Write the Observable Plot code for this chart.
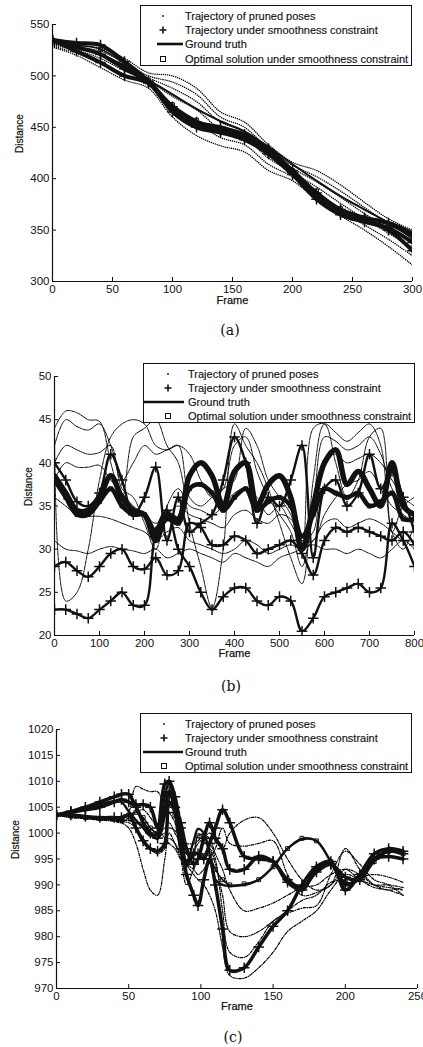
<!DOCTYPE html>
<html><head><meta charset="utf-8">
<script src="https://cdn.jsdelivr.net/npm/d3@7"></script>
<script src="https://cdn.jsdelivr.net/npm/@observablehq/plot@0.6"></script>
<style>
body{margin:0;background:#fff;}
#wrap{position:relative;width:423px;height:1047px;overflow:hidden;font-family:"Liberation Sans",Arial,sans-serif;background:#fff;}
#wrap svg{position:absolute;left:0;}
.legend{position:absolute;background:#fff;border:1px solid #111;box-sizing:border-box;}
.legend svg{position:absolute;left:0;top:0;}
.cap{position:absolute;font-family:"DejaVu Serif","Liberation Serif",serif;font-size:14px;color:#111;transform:translate(-50%,-50%);}
</style></head><body><div id="wrap"></div>
<script>
// ---------- shared ----------
const legendLabels = ["Trajectory of pruned poses","Trajectory under smoothness constraint","Ground truth","Optimal solution under smoothness constraint"];
const captions = ["(a)","(b)","(c)"];

// ---------- panel (a) ----------
const aFrames = [0,20,40,60,80,100,120,140,160,180,200,220,240,260,280,300];
const aTruth   = [535,528,521,510,496,482,468,456,446,431,414,398,383,370,357,342];
const aOptimal = [535,530,526,512,495,472,457,449,441,427,408,388,371,362,355,344];
const aSmooth1 = [535,532,530,514,495,470,455,450,443,429,408,386,370,362,357,347];
const aSmooth2 = [535,524,513,500,493,465,450,445,438,424,404,380,365,358,352,338];
const aSmooth3 = [535,528,521,507,494,468,453,447,440,426,406,383,367,360,350,330];
const aPruned1 = [533,530,527,517,503,500,488,465,455,433,416,408,394,377,361,350];
const aPruned2 = [532,528,524,513,500,494,482,460,450,429,413,402,388,372,356,345];
const aPruned3 = [531,527,521,509,498,488,475,455,446,425,410,397,382,366,352,340];
const aPruned4 = [530,525,517,505,495,480,467,448,440,420,406,392,376,361,347,333];
const aPruned5 = [529,522,512,500,491,470,455,440,433,414,402,385,369,355,341,325];
const aPruned6 = [528,520,508,496,488,460,442,432,426,408,398,380,364,350,334,316];
const aXTicks = [0,50,100,150,200,250,300];
const aYTicks = [300,350,400,450,500,550];

// ---------- panel (b) ----------
const bFrames = [0,25,50,75,100,125,150,175,200,225,250,275,300,325,350,375,400,425,450,475,500,525,550,575,600,625,650,675,700,725,750,775,800];
const bTruth   = [38.5,36.5,34.5,34.5,36,38.5,36,34.5,34,31,34,33.5,38.5,40,38.5,35,39,40,35,37.5,38.5,36,30,35,40,41.5,37.5,39,37,35,40,35,34];
const bOptimal = [38,36,34,34,35.5,37,35,34,34,32,33.5,33,37,37.5,36.5,34.5,36,37,34.5,35.5,36,35,31.5,34,37,36.5,36,36.5,35,35.5,36.5,33.5,33.5];
const bSmooth1 = [23,23,22.5,22,23,24,25,23.5,23.5,32,34.5,30,28,25,23,24.5,25.5,25.5,24,23.5,24.5,24,20.5,22,24.5,25,25.5,26,25,25.5,33,31,28];
const bSmooth2 = [28,28.5,27.5,26.8,28,29.5,30,28,27.7,29,27,27.5,33,32.5,30.5,30.5,31.5,31,29.5,30,30.5,31,29.5,27,31,32.5,32,32.5,32,31.5,31,32,30.5];
const bSmooth3 = [40,38,35.5,35,36.5,41,38,34,36,39.5,31,36,32,33,34,38,43,40,33,36,35,38,42,29,37,38,35,36.5,41,37,39,36,32];
const bPruned1 = [44,46,45.8,45,44.8,40,36,43,44,45,42,40,33,28,23.2,30,44.5,42,40,37,33,29,26,38,44.5,43.5,42.5,43.5,44.5,42,32,30,33];
const bPruned2 = [42,45,44.2,43.8,44.5,42,38,40,42,41,41.5,42,36,35,36,37,42,43,39,36,34,32,28,35,43,42.5,41.5,42,43,41,37,35,34];
const bPruned3 = [40,42,41.5,41,41.2,42,37,36,33,30,35,37,35,34.5,34,35,36.5,37,36,34,35,33,31,32,40.5,41,40,40.5,41,40,38,36,35];
const bPruned4 = [38,40,39.5,39.5,39.7,38,36.5,35,34,33,34,35,34,33.5,33,32.5,34,34.5,33.5,33,34,33.5,31,31,34,36,37.5,38,39,37,35,34,33];
const bPruned5 = [36,35,34,33.8,33.8,33.5,33,32.5,32,31,32,32.5,31,30.5,30,29.5,30,31,30.5,29.5,30,30.5,30,31,33,33.5,32.5,33,33.5,33,32,31,31];
const bPruned6 = [31,30,29.8,29.5,30,30.3,30,29.8,29.5,30,29,29.5,30,29.5,29,28.5,29.5,29,28.5,28,29,29.5,30,30.5,30,30,29.5,30,29.5,29,30,31,30];
const bPruned7 = [44,24,25,30,38,43,44.5,45,44.5,42,41.5,42,41,38,36,37,38,44,42,38,36,34,30,44,44.5,40,36,38,43,44,32,35,36];
const bXTicks = [0,100,200,300,400,500,600,700,800];
const bYTicks = [20,25,30,35,40,45,50];

// ---------- panel (c) ----------
const cFrames = [0,10,20,30,40,45,50,55,60,65,70,75,78,82,86,90,95,98,102,106,110,115,120,130,140,150,160,170,180,190,200,210,220,230,240];
const cTruth   = [1003.5,1004,1004.8,1005.5,1006.2,1006,1004.2,1002.5,1001,999.5,1000,1007,1009.8,1004,999,994.5,998.5,1000.8,1000,996,991,990,989.8,990,991,993.5,997,998.8,998.5,994.5,990.5,991,994.5,996.5,996];
const cOptimal = [1003.5,1003.3,1003,1002.8,1002.7,1002.7,1003.5,1004,1003,1001,1000,1007.5,1009.8,1003.5,998,994,996,999.5,999.5,996,993,991,990,990.2,991,993.5,997,999,998.5,994.5,990.5,991,994.5,996.5,996];
const cSmooth1 = [1003.5,1004.2,1005,1006,1007,1007.5,1007.5,1005.5,1005.5,1005,1001,1009.5,1010,1007,1001,994,996,996,995,998,1001,1004.5,1002,995.5,995,994.5,990.5,989,993,994,990,991.5,995,995.5,995];
const cSmooth2 = [1003.5,1003.5,1003.2,1003,1003,1003,1003.5,1001,998.5,997,996.5,998,1006,1004,997,992,988,986,991,995,990,981.5,973.5,974,978,982,985,990,993.5,994.5,989,992,996,997,996.5];
const cSmooth3 = [1003.5,1004,1004.5,1005,1006,1006.5,1006,1005,1002,1000,999,1004,1008,1005,1002,997,994,995,999,1002,999,997,993,993,995.5,994.5,991,989.5,992.5,994,991.5,991,995,996.5,996];
const cPruned1 = [1003.5,1003.3,1003,1002.8,1002.5,1002.5,1004,1009,1008.5,1008,1008,1005,1004,1002,997,996,996.5,998,999,1000,998.5,997,1000,1002.5,1003,1000,995,991,989,990,997,993,990,989,989.5];
const cPruned2 = [1003.5,1003.3,1003,1002.5,1002.5,1002,1001,998,993,989,988,995,1000,998,995,990,993,995,998,998,995,985,977,976,979,983,984.5,985.5,986,992,996.5,994,991,990,988];
const cPruned3 = [1003.5,1003.2,1002.8,1002.5,1002.3,1002,1003,1004,1004.5,1003,1001,999,998,997,995,994,993,992,993,995,997,1001,998,997.5,998,998.5,992,988,988.5,990,993,992,990,989.5,989];
const cPruned4 = [1003.5,1003,1002.8,1002.6,1002.4,1002.2,1002,1001,999,997,996,997,999,998,996,994,992,991,990,988,985,978,972.5,972,974,977,981,983,985,989,992,991,990,990,989.5];
const cPruned5 = [1003.5,1003,1003,1002.8,1002.6,1002.4,1002.5,1002,1001.5,1001,1000,1001,1002,1000,998,996,995,995,996,997,994,988,981,980,981,983,985,987,988,990.5,991,991.5,992,991.5,990.5];
const cPruned6 = [1003.5,1003.2,1003,1003,1002.8,1002.6,1002.4,1002,1001,1000,999.5,1000,1001,1000.5,999,998,998,998.5,999.5,999,996,993,989,985,985.5,986.5,988,989.5,990,992,993,991,989.5,989,988];
const cXTicks = [0,50,100,150,200,250];
const cYTicks = [970,975,980,985,990,995,1000,1005,1010,1015,1020];

// ---------- drawing ----------
const INK = "#111";
function drawPanel(o) {
  const pts = arr => o.frames.map((f, i) => ({f, v: arr[i]}));
  const marks = [];
  for (const p of o.pruned) {
    marks.push(Plot.line(pts(p), {x: "f", y: "v", curve: "catmull-rom", stroke: "#000", strokeWidth: o.prunedWidth, strokeDasharray: o.prunedDash, strokeLinecap: "round", clip: true}));
  }
  for (const s of o.smooth) {
    marks.push(Plot.line(pts(s), {x: "f", y: "v", curve: o.curve, stroke: INK, strokeWidth: o.smoothWidth, clip: true}));
    marks.push(Plot.dot(pts(s), {x: "f", y: "v", symbol: "plus", r: o.plusR, stroke: INK, strokeWidth: 1.5, clip: true}));
  }
  marks.push(Plot.line(pts(o.optimal), {x: "f", y: "v", curve: o.curve, stroke: INK, strokeWidth: o.optWidth, clip: true}));
  marks.push(Plot.dot(pts(o.optimal), {x: "f", y: "v", symbol: "square", r: 2.2, stroke: INK, fill: "none", strokeWidth: 1, clip: true}));
  marks.push(Plot.line(pts(o.truth), {x: "f", y: "v", curve: o.curve, stroke: INK, strokeWidth: o.truthWidth, clip: true}));
  marks.push(Plot.ruleX([o.xDomain[0]], {stroke: INK, strokeWidth: 1.2}));
  marks.push(Plot.ruleY([o.yDomain[0]], {stroke: INK, strokeWidth: 1.2}));
  marks.push(Plot.axisX(o.xTicks, {tickSize: -4, tickPadding: 7, fontSize: 11.5, label: null, tickFormat: d => String(d), stroke: INK, fill: INK}));
  marks.push(Plot.axisY(o.yTicks, {tickSize: -4, tickPadding: 7, fontSize: 11.5, label: null, tickFormat: d => String(d), stroke: INK, fill: INK}));
  marks.push(Plot.text(["Frame"], {frameAnchor: "bottom", dy: o.frameDy, fontSize: 11, fill: INK, stroke: INK, strokeWidth: 0.25}));
  marks.push(Plot.text(["Distance"], {frameAnchor: "left", dx: o.distDx, rotate: -90, fontSize: 10, fill: INK, stroke: INK, strokeWidth: 0.2}));
  const svg = Plot.plot({
    width: 423, height: o.height,
    marginTop: o.m[0], marginRight: o.m[1], marginBottom: o.m[2], marginLeft: o.m[3],
    x: {domain: o.xDomain}, y: {domain: o.yDomain},
    style: {fontFamily: "'Liberation Sans', Arial, sans-serif", background: "transparent", color: INK, overflow: "visible"},
    marks
  });
  svg.style.top = o.top + "px";
  return svg;
}

function drawLegend(o) {
  const div = document.createElement("div");
  div.className = "legend";
  Object.assign(div.style, {left: o.left + "px", top: o.top + "px", width: o.width + "px", height: o.height + "px"});
  const w = o.width, h = o.height, sx = o.symX, rows = o.rows;
  let s = `<svg width="${w}" height="${h}" font-family="'Liberation Sans', Arial, sans-serif" font-size="11">`;
  s += `<circle cx="${sx}" cy="${rows[0]}" r="0.9" fill="${INK}"/>`;
  s += `<path d="M${sx-3.5},${rows[1]}h7M${sx},${rows[1]-3.5}v7" stroke="${INK}" stroke-width="1.6"/>`;
  s += `<line x1="${o.lineX[0]}" x2="${o.lineX[1]}" y1="${rows[2]}" y2="${rows[2]}" stroke="${INK}" stroke-width="2.6"/>`;
  s += `<rect x="${sx-2.5}" y="${rows[3]-2.5}" width="5" height="5" fill="none" stroke="${INK}" stroke-width="1"/>`;
  legendLabels.forEach((t, i) => { s += `<text x="${o.textX}" y="${rows[i]}" dy="0.35em" fill="${INK}" stroke="${INK}" stroke-width="0.15">${t}</text>`; });
  s += `</svg>`;
  div.innerHTML = s;
  return div;
}

function drawCaption(text, x, y) {
  const d = document.createElement("div");
  d.className = "cap";
  d.textContent = text;
  d.style.left = x + "px"; d.style.top = y + "px";
  return d;
}

const wrap = document.getElementById("wrap");

wrap.appendChild(drawPanel({
  top: 0, height: 315, m: [24, 11, 34, 52],
  frames: aFrames, truth: aTruth, optimal: aOptimal,
  smooth: [aSmooth1, aSmooth2, aSmooth3],
  pruned: [aPruned1, aPruned2, aPruned3, aPruned4, aPruned5, aPruned6],
  xDomain: [0, 300], yDomain: [300, 550], xTicks: aXTicks, yTicks: aYTicks,
  prunedWidth: 1.4, prunedDash: "0.1,2", smoothWidth: 4, plusR: 3.5, optWidth: 1.5, truthWidth: 2,
  curve: "catmull-rom", frameDy: 22, distDx: -33
}));
wrap.appendChild(drawLegend({left: 140, top: 5, width: 272, height: 61, symX: 22, rows: [10, 24, 38, 53], lineX: [16, 42], textX: 44}));
wrap.appendChild(drawCaption(captions[0], 230, 330));

wrap.appendChild(drawPanel({
  top: 345, height: 320, m: [31, 9, 30, 54],
  frames: bFrames, truth: bTruth, optimal: bOptimal,
  smooth: [bSmooth1, bSmooth2, bSmooth3],
  pruned: [bPruned1, bPruned2, bPruned3, bPruned4, bPruned5, bPruned6, bPruned7],
  xDomain: [0, 800], yDomain: [20, 50], xTicks: bXTicks, yTicks: bYTicks,
  prunedWidth: 1, prunedDash: "1.5,1", smoothWidth: 2.4, plusR: 3.5, optWidth: 4.5, truthWidth: 5.5,
  curve: "catmull-rom", frameDy: 21.5, distDx: -26
}));
wrap.appendChild(drawLegend({left: 143, top: 363, width: 272, height: 60, symX: 24, rows: [10, 24, 38, 52], lineX: [0, 40], textX: 44}));
wrap.appendChild(drawCaption(captions[1], 231, 686));

wrap.appendChild(drawPanel({
  top: 700, height: 320, m: [29, 6, 32, 56],
  frames: cFrames, truth: cTruth, optimal: cOptimal,
  smooth: [cSmooth1, cSmooth2, cSmooth3],
  pruned: [cPruned1, cPruned2, cPruned3, cPruned4, cPruned5, cPruned6],
  xDomain: [0, 250], yDomain: [970, 1020], xTicks: cXTicks, yTicks: cYTicks,
  prunedWidth: 1.2, prunedDash: "2.5,1.5,0.5,1.5", smoothWidth: 3.5, plusR: 3.5, optWidth: 1.5, truthWidth: 2.4,
  curve: "catmull-rom", frameDy: 21, distDx: -41
}));
wrap.appendChild(drawLegend({left: 140, top: 713, width: 272, height: 60, symX: 23, rows: [10, 24, 38, 52], lineX: [2, 42], textX: 44}));
wrap.appendChild(drawCaption(captions[2], 233, 1037));
</script></body></html>
